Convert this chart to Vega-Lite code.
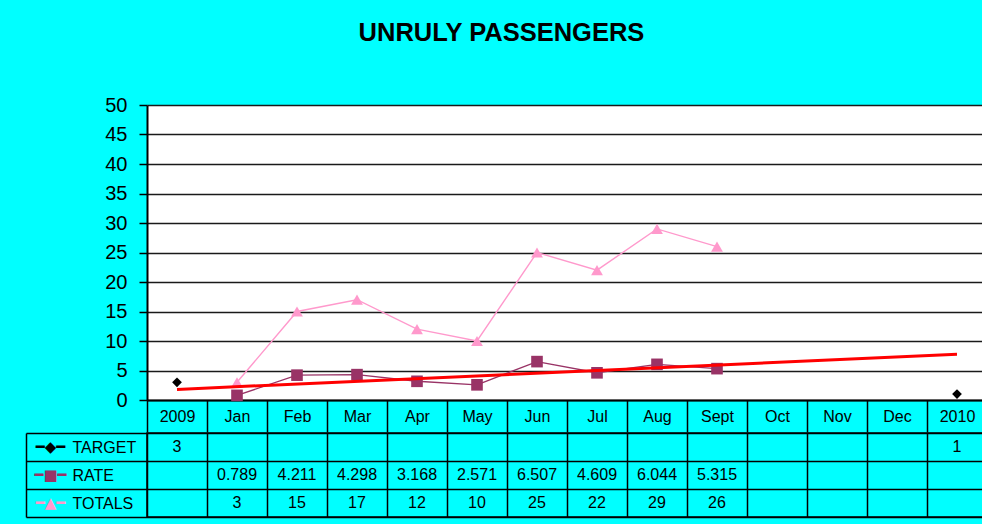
{
  "$schema": "https://vega.github.io/schema/vega-lite/v6.json",
  "background": "#00ffff",
  "padding": {"left": 24, "top": 20, "right": 0, "bottom": 6},
  "autosize": {"type": "pad"},
  "title": {"text": "UNRULY PASSENGERS", "fontSize": 25.5, "fontWeight": "bold", "font": "Liberation Sans", "color": "black", "anchor": "middle", "offset": 49, "dx": -5},
  "config": {"font": "Liberation Sans", "view": {"stroke": null}, "concat": {"spacing": 0}},
  "spacing": -9,
  "datasets": {
    "vals": [
      {"cat": "2009", "series": "TARGET", "value": 3},
      {"cat": "2010", "series": "TARGET", "value": 1},
      {"cat": "Jan", "series": "RATE", "value": 0.789},
      {"cat": "Feb", "series": "RATE", "value": 4.211},
      {"cat": "Mar", "series": "RATE", "value": 4.298},
      {"cat": "Apr", "series": "RATE", "value": 3.168},
      {"cat": "May", "series": "RATE", "value": 2.571},
      {"cat": "Jun", "series": "RATE", "value": 6.507},
      {"cat": "Jul", "series": "RATE", "value": 4.609},
      {"cat": "Aug", "series": "RATE", "value": 6.044},
      {"cat": "Sept", "series": "RATE", "value": 5.315},
      {"cat": "Jan", "series": "TOTALS", "value": 3},
      {"cat": "Feb", "series": "TOTALS", "value": 15},
      {"cat": "Mar", "series": "TOTALS", "value": 17},
      {"cat": "Apr", "series": "TOTALS", "value": 12},
      {"cat": "May", "series": "TOTALS", "value": 10},
      {"cat": "Jun", "series": "TOTALS", "value": 25},
      {"cat": "Jul", "series": "TOTALS", "value": 22},
      {"cat": "Aug", "series": "TOTALS", "value": 29},
      {"cat": "Sept", "series": "TOTALS", "value": 26}
    ],
    "trend": [
      {"cat": "2009", "value": 1.8},
      {"cat": "2010", "value": 7.75}
    ]
  },
  "vconcat": [
    {
      "width": 840,
      "height": 295,
      "view": {"fill": "white", "stroke": null},
      "data": {"name": "vals"},
      "encoding": {
        "x": {
          "field": "cat", "type": "nominal",
          "sort": ["2009", "Jan", "Feb", "Mar", "Apr", "May", "Jun", "Jul", "Aug", "Sept", "Oct", "Nov", "Dec", "2010"],
          "scale": {"domain": ["2009", "Jan", "Feb", "Mar", "Apr", "May", "Jun", "Jul", "Aug", "Sept", "Oct", "Nov", "Dec", "2010"], "paddingInner": 0, "paddingOuter": 0},
          "axis": {"title": null, "labelAngle": 0, "labelFontSize": 16, "labelColor": "black", "tickBand": "extent", "tickSize": 32, "tickColor": "black", "tickWidth": 1.5, "domainColor": "black", "domainWidth": 2, "labelPadding": -16, "labelBaseline": "middle", "grid": false}
        },
        "y": {
          "field": "value", "type": "quantitative",
          "scale": {"domain": [0, 50]},
          "axis": {"title": null, "values": [0, 5, 10, 15, 20, 25, 30, 35, 40, 45, 50], "grid": true, "gridColor": "#1a1a1a", "gridWidth": 1.5, "labelFontSize": 20, "labelColor": "black", "tickColor": "black", "tickSize": 8, "tickWidth": 1.5, "domainColor": "black", "domainWidth": 2, "labelPadding": 12}
        }
      },
      "layer": [
        {
          "transform": [{"filter": "datum.series == 'TOTALS'"}],
          "mark": {"type": "line", "color": "#ff99cc", "strokeWidth": 1.4, "point": {"shape": "triangle-up", "size": 140, "filled": true, "color": "#ff99cc", "opacity": 1}}
        },
        {
          "transform": [{"filter": "datum.series == 'RATE'"}],
          "mark": {"type": "line", "color": "#993366", "strokeWidth": 1.4, "point": {"shape": "square", "size": 135, "filled": true, "color": "#993366", "opacity": 1}}
        },
        {
          "transform": [{"filter": "datum.series == 'TARGET'"}],
          "mark": {"type": "point", "shape": "diamond", "filled": true, "color": "black", "size": 95, "opacity": 1}
        },
        {
          "data": {"name": "trend"},
          "mark": {"type": "line", "color": "#ff0000", "strokeWidth": 3}
        }
      ]
    },
    {
      "width": 840,
      "height": 84,
      "view": {"stroke": "black", "strokeWidth": 1.5, "fill": null},
      "data": {"name": "vals"},
      "resolve": {"axis": {"y": "independent"}},
      "encoding": {
        "x": {
          "field": "cat", "type": "nominal",
          "sort": ["2009", "Jan", "Feb", "Mar", "Apr", "May", "Jun", "Jul", "Aug", "Sept", "Oct", "Nov", "Dec", "2010"],
          "scale": {"domain": ["2009", "Jan", "Feb", "Mar", "Apr", "May", "Jun", "Jul", "Aug", "Sept", "Oct", "Nov", "Dec", "2010"], "paddingInner": 0, "paddingOuter": 0},
          "axis": {"title": null, "orient": "bottom", "labels": false, "ticks": false, "domain": false, "grid": true, "tickBand": "extent", "gridColor": "black", "gridWidth": 1.5, "gridOpacity": 1, "minExtent": 0, "maxExtent": 0}
        }
      },
      "layer": [
        {
          "mark": {"type": "text", "fontSize": 16, "color": "black"},
          "encoding": {
            "y": {
              "field": "series", "type": "nominal",
              "sort": ["TARGET", "RATE", "TOTALS"],
              "scale": {"domain": ["TARGET", "RATE", "TOTALS"], "paddingInner": 0, "paddingOuter": 0},
              "axis": {"title": null, "orient": "left", "offset": 121, "domain": true, "domainColor": "black", "domainWidth": 1.5, "ticks": true, "tickBand": "extent", "tickSize": -961, "tickColor": "black", "tickWidth": 1.5, "labelAlign": "left", "labelBaseline": "middle", "labelPadding": 915, "labelFontSize": 16, "labelColor": "black", "grid": false}
            },
            "text": {"field": "value", "type": "nominal"}
          }
        },
        {
          "mark": {"type": "point", "opacity": 0},
          "encoding": {
            "y": {
              "field": "series", "type": "nominal",
              "sort": ["TARGET", "RATE", "TOTALS"],
              "scale": {"domain": ["TARGET", "RATE", "TOTALS"], "paddingInner": 0, "paddingOuter": 0},
              "axis": {"title": null, "orient": "left", "offset": 0, "domain": false, "ticks": false, "grid": false, "labelAlign": "center", "labelBaseline": "middle", "labelPadding": 97, "labelFont": "DejaVu Sans", "labelFontSize": 15, "labelOverlap": false,
                "labelExpr": "datum.value == 'TARGET' ? '━◆━' : datum.value == 'RATE' ? '━■━' : '━▲━'",
                "labelColor": {"expr": "datum.value == 'TARGET' ? 'black' : datum.value == 'RATE' ? '#993366' : '#ff99cc'"}}
            }
          }
        }
      ]
    }
  ]
}
